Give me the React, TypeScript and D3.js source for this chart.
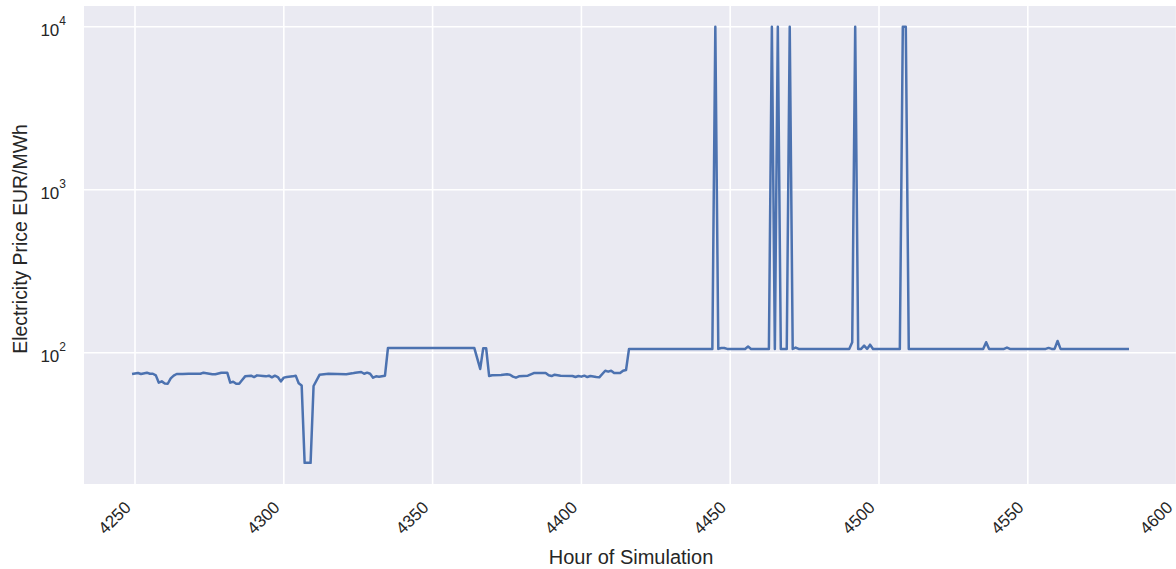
import React from "react";
import * as d3 from "d3";

const hours = [
  4249, 4251, 4252, 4254, 4255, 4256, 4257, 4258, 4259, 4260, 4261, 4262, 4263, 4264, 4266, 4268,
  4272, 4273, 4275, 4276, 4277, 4279, 4281, 4282, 4283, 4284, 4285, 4286, 4287, 4289, 4290, 4291,
  4293, 4294, 4295, 4296, 4297, 4298, 4299, 4300, 4301, 4303, 4304, 4305, 4306, 4307, 4309, 4310,
  4312, 4315, 4321, 4323, 4324, 4326, 4327, 4328, 4329, 4330, 4331, 4332, 4334, 4335, 4364, 4366,
  4367, 4368, 4369, 4370, 4373, 4375, 4376, 4377, 4378, 4379, 4382, 4384, 4388, 4389, 4390, 4391,
  4393, 4397, 4398, 4399, 4400, 4401, 4402, 4403, 4405, 4406, 4408, 4409, 4410, 4411, 4413, 4414,
  4415, 4416, 4444, 4445, 4446, 4447, 4448, 4449, 4455, 4456, 4457, 4463, 4464, 4465, 4466, 4467,
  4469, 4470, 4471, 4472, 4473, 4490, 4491, 4492, 4493, 4494, 4495, 4496, 4497, 4498, 4507, 4508,
  4509, 4510, 4535, 4536, 4537, 4542, 4543, 4544, 4556, 4557, 4558, 4559, 4560, 4561, 4584,
];

const prices = [
  74.0, 75.1, 74.0, 75.4, 74.3, 74.3, 72.6, 65.5, 66.7, 64.8, 64.5, 69.6, 72.3, 74.0, 74.0, 74.3,
  74.3, 75.4, 74.3, 73.7, 73.7, 75.4, 75.4, 65.5, 66.4, 64.5, 64.5, 68.0, 71.6, 72.3, 70.9, 72.6,
  71.9, 71.6, 72.3, 70.6, 72.3, 70.9, 66.7, 70.3, 70.9, 71.6, 72.3, 65.0, 63.0, 21.1, 21.1, 62.5,
  73.2, 74.3, 73.7, 74.7, 75.4, 76.1, 74.3, 75.4, 74.3, 70.3, 71.6, 71.3, 72.3, 107.0, 107.0, 79.5,
  106.4, 106.4, 71.9, 72.7, 73.0, 73.7, 73.3, 71.3, 70.3, 71.6, 72.3, 75.0, 75.0, 72.7, 71.9, 73.3,
  72.3, 71.9, 70.9, 71.9, 71.3, 72.3, 70.9, 71.9, 70.9, 70.6, 77.5, 76.5, 77.5, 75.0, 75.0, 77.5,
  78.3, 105.5, 105.5, 10000, 105.5, 106.8, 106.8, 105.5, 105.5, 109.0, 105.5, 105.5, 10000, 105.5, 10000, 105.5,
  105.5, 10000, 105.5, 107.5, 105.5, 105.5, 116.0, 10000, 105.5, 105.5, 110.5, 105.5, 112.0, 105.5, 105.5, 10000,
  10000, 105.5, 105.5, 116.0, 105.5, 105.5, 107.5, 105.5, 105.5, 107.0, 105.5, 105.5, 118.0, 105.5, 105.5,
];

const xTicks = [4250, 4300, 4350, 4400, 4450, 4500, 4550, 4600];
const yTicks = [100, 1000, 10000];
const yTickExponents = ["2", "3", "4"];

const xLabel = "Hour of Simulation";
const yLabel = "Electricity Price EUR/MWh";

const W = 1176;
const H = 569;
const left = 84;
const right = 1178;
const top = 6;
const bottom = 484;
const FONT = "'Liberation Sans', Arial, sans-serif";
const TXT = "#262626";

export default function App() {
  const x = d3.scaleLinear().domain([4232.86, 4600.47]).range([left, right]);
  const y = d3.scaleLog().domain([Math.pow(10, 1.1945), Math.pow(10, 4.127)]).range([bottom, top]);

  const pts: [number, number][] = hours.map((h, i) => [h, prices[i]]);
  const line = d3
    .line<[number, number]>()
    .x((d) => x(d[0]))
    .y((d) => y(d[1]));

  return (
    <svg
      width={W}
      height={H}
      style={{ position: "absolute", left: 0, top: 0, background: "#fff" }}
      fontFamily={FONT}
    >
      <defs>
        <clipPath id="plotclip">
          <rect x={left} y={top} width={right - left} height={bottom - top} />
        </clipPath>
      </defs>
      <rect x={left} y={top} width={right - left} height={bottom - top} fill="#EAEAF2" />
      <g clipPath="url(#plotclip)">
        {xTicks.map((t) => (
          <line key={t} x1={x(t)} x2={x(t)} y1={top} y2={bottom} stroke="#fff" strokeWidth={1.6} />
        ))}
        {yTicks.map((t) => (
          <line key={t} x1={left} x2={right} y1={y(t)} y2={y(t)} stroke="#fff" strokeWidth={1.6} />
        ))}
        <path
          d={line(pts) || ""}
          fill="none"
          stroke="#4C72B0"
          strokeWidth={2.5}
          strokeLinejoin="round"
          strokeLinecap="butt"
        />
      </g>
      {xTicks.map((t) => {
        const ax = x(t) - 3;
        const ay = 508.5;
        return (
          <text
            key={t}
            x={ax}
            y={ay}
            fontSize={17}
            fill={TXT}
            textAnchor="end"
            transform={`rotate(-45 ${ax} ${ay})`}
          >
            {t}
          </text>
        );
      })}
      {yTicks.map((t, i) => (
        <text key={t} x={66} y={y(t) + 9.7} fontSize={17} fill={TXT} textAnchor="end">
          <tspan>10</tspan>
          <tspan dy={-11.4} fontSize={12}>
            {yTickExponents[i]}
          </tspan>
        </text>
      ))}
      <text x={(left + right) / 2} y={564} fontSize={20} fill={TXT} textAnchor="middle">
        {xLabel}
      </text>
      <text
        x={0}
        y={0}
        fontSize={19.4}
        fill={TXT}
        textAnchor="middle"
        transform={`translate(27 ${239}) rotate(-90)`}
      >
        {yLabel}
      </text>
    </svg>
  );
}
